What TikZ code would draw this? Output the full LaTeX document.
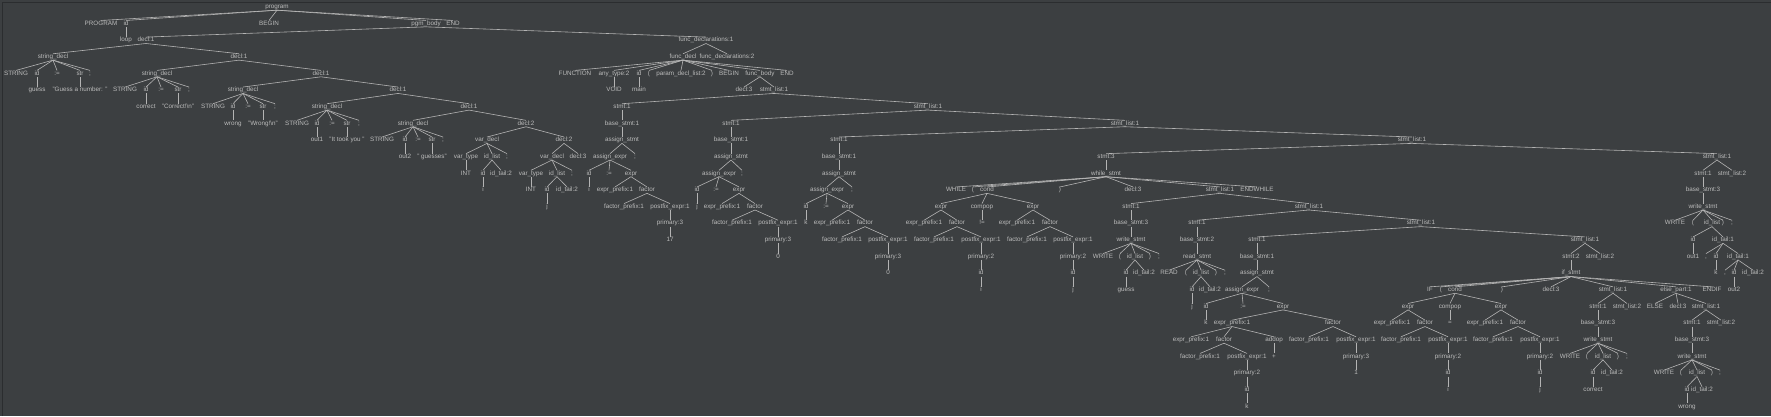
\documentclass[tikz,border=0pt]{standalone}
\usepackage{fontspec}
\setmainfont{Liberation Sans}
\definecolor{bgc}{HTML}{3C3F41}
\definecolor{txc}{HTML}{BBBBBB}
\definecolor{lnc}{HTML}{B4B4B4}
\definecolor{frc}{HTML}{2B2D2F}
\tikzset{
  tn/.style={text=txc, font=\fontsize{6.3}{7}\selectfont, inner sep=0.3pt, text height=4.2pt, text depth=1.2pt},
  te/.style={draw=lnc, line width=0.6pt}
}
\newcommand\T[4]{\node[tn] (#1) at (#2, {-7-16.65*#3}) {#4};}
\newcommand\E[2]{\foreach \chld in {#2}{\draw[te] (#1.south) -- (\chld.north);}}
\begin{document}
\begin{tikzpicture}[x=1pt,y=1pt]
\fill[bgc] (0,0) rectangle (1771,-416);
\useasboundingbox (0,0) rectangle (1771,-416);
\draw[frc, line width=1pt] (2.5,-416) -- (2.5,-2.5) -- (1771,-2.5);
% top
\T{r}{277}{0}{program}
\T{rP}{101}{1}{PROGRAM} \T{rI}{126}{1}{id} \T{rB}{269}{1}{BEGIN} \T{pb}{426}{1}{pgm\_body} \T{rE}{453}{1}{END}
\T{rL}{126}{2}{loop} \T{da}{146}{2}{decl:1} \T{fa}{706}{2}{func\_declarations:1}
% declarations
\T{sa}{53}{3}{string\_decl} \T{db}{239}{3}{decl:1}
\T{saS}{16}{4}{STRING} \T{saI}{37}{4}{id} \T{saE}{57}{4}{:=} \T{saT}{80}{4}{str} \T{saC}{90}{4}{;}
\T{saIv}{37}{5}{guess} \T{saTv}{80}{5}{"Guess a number: "}
\T{sb}{157}{4}{string\_decl} \T{dc}{321}{4}{decl:1}
\T{sbS}{125}{5}{STRING} \T{sbI}{146}{5}{id} \T{sbE}{161}{5}{:=} \T{sbT}{178}{5}{str} \T{sbC}{189}{5}{;}
\T{sbIv}{146}{6}{correct} \T{sbTv}{178}{6}{"Correct!\textbackslash n"}
\T{sc}{243}{5}{string\_decl} \T{dd}{398}{5}{decl:1}
\T{scS}{213}{6}{STRING} \T{scI}{233}{6}{id} \T{scE}{248}{6}{:=} \T{scT}{263}{6}{str} \T{scC}{275}{6}{;}
\T{scIv}{233}{7}{wrong} \T{scTv}{263}{7}{"Wrong!\textbackslash n"}
\T{sd}{327}{6}{string\_decl} \T{de}{469}{6}{decl:1}
\T{sdS}{297}{7}{STRING} \T{sdI}{317}{7}{id} \T{sdE}{332}{7}{:=} \T{sdT}{347}{7}{str} \T{sdC}{359}{7}{;}
\T{sdIv}{317}{8}{out1} \T{sdTv}{347}{8}{"It took you "}
\T{se}{413}{7}{string\_decl} \T{df}{526}{7}{decl:2}
\T{seS}{382}{8}{STRING} \T{seI}{405}{8}{id} \T{seE}{418}{8}{:=} \T{seT}{432}{8}{str} \T{seC}{443}{8}{;}
\T{seIv}{405}{9}{out2} \T{seTv}{432}{9}{" guesses"}
\T{va}{487}{8}{var\_decl} \T{dg}{564}{8}{decl:2}
\T{vaT}{466}{9}{var\_type} \T{vaL}{492}{9}{id\_list} \T{vaC}{507}{9}{;}
\T{vaTv}{466}{10}{INT} \T{vaI}{483}{10}{id} \T{vaIt}{501}{10}{id\_tail:2}
\T{vaIv}{483}{11}{i}
\T{vb}{552}{9}{var\_decl} \T{dh}{578}{9}{decl:3}
\T{vbT}{531}{10}{var\_type} \T{vbL}{557}{10}{id\_list} \T{vbC}{572}{10}{;}
\T{vbTv}{531}{11}{INT} \T{vbI}{547}{11}{id} \T{vbIt}{567}{11}{id\_tail:2}
\T{vbIv}{547}{12}{j}
% function
\T{fd}{683}{3}{func\_decl} \T{fb}{727}{3}{func\_declarations:2}
\T{fF}{575}{4}{FUNCTION} \T{fT}{614}{4}{any\_type:2} \T{fI}{639}{4}{id} \T{fLp}{649}{4}{(} \T{fP}{681}{4}{param\_decl\_list:2} \T{fRp}{712}{4}{)} \T{fB}{729}{4}{BEGIN} \T{fBd}{760}{4}{func\_body} \T{fE}{787}{4}{END}
\T{fTv}{614}{5}{VOID} \T{fIv}{639}{5}{main} \T{fD}{744}{5}{decl:3} \T{la}{774}{5}{stmt\_list:1}
% stmt 1
\T{ta}{622}{6}{stmt:1} \T{lb}{928}{6}{stmt\_list:1}
\T{taB}{622}{7}{base\_stmt:1}
\T{taA}{622}{8}{assign\_stmt}
\T{taX}{610}{9}{assign\_expr} \T{taC}{635}{9}{;}
\T{taI}{589}{10}{id} \T{taE}{609}{10}{:=} \T{taR}{631}{10}{expr}
\T{taIv}{589}{11}{i} \T{taRp}{615}{11}{expr\_prefix:1} \T{taRf}{647}{11}{factor}
\T{taFp}{624}{12}{factor\_prefix:1} \T{taFx}{670}{12}{postfix\_expr:1}
\T{taFy}{670}{13}{primary:3}
\T{taFv}{670}{14}{17}
% stmt 2
\T{tb}{731}{7}{stmt:1} \T{lc}{1125}{7}{stmt\_list:1}
\T{tbB}{731}{8}{base\_stmt:1}
\T{tbA}{731}{9}{assign\_stmt}
\T{tbX}{719}{10}{assign\_expr} \T{tbC}{742}{10}{;}
\T{tbI}{697}{11}{id} \T{tbE}{716}{11}{:=} \T{tbR}{739}{11}{expr}
\T{tbIv}{697}{12}{j} \T{tbRp}{722}{12}{expr\_prefix:1} \T{tbRf}{755}{12}{factor}
\T{tbFp}{732}{13}{factor\_prefix:1} \T{tbFx}{778}{13}{postfix\_expr:1}
\T{tbFy}{778}{14}{primary:3}
\T{tbFv}{778}{15}{0}
% stmt 3
\T{tc}{839}{8}{stmt:1} \T{ld}{1412}{8}{stmt\_list:1}
\T{tcB}{839}{9}{base\_stmt:1}
\T{tcA}{839}{10}{assign\_stmt}
\T{tcX}{827}{11}{assign\_expr} \T{tcC}{852}{11}{;}
\T{tcI}{806}{12}{id} \T{tcE}{826}{12}{:=} \T{tcR}{848}{12}{expr}
\T{tcIv}{806}{13}{k} \T{tcRp}{832}{13}{expr\_prefix:1} \T{tcRf}{865}{13}{factor}
\T{tcFp}{842}{14}{factor\_prefix:1} \T{tcFx}{888}{14}{postfix\_expr:1}
\T{tcFy}{888}{15}{primary:3}
\T{tcFv}{888}{16}{0}
% while
\T{td}{1106}{9}{stmt:3} \T{le}{1717}{9}{stmt\_list:1}
\T{w}{1106}{10}{while\_stmt}
\T{wW}{956}{11}{WHILE} \T{wLp}{973}{11}{(} \T{wc}{987}{11}{cond} \T{wRp}{1060}{11}{)} \T{wD}{1133}{11}{decl:3} \T{lf}{1220}{11}{stmt\_list:1} \T{wE}{1257}{11}{ENDWHILE}
\T{wa}{941}{12}{expr} \T{wo}{982}{12}{compop} \T{wb}{1033}{12}{expr}
\T{waP}{924}{13}{expr\_prefix:1} \T{waF}{957}{13}{factor}
\T{waFp}{934}{14}{factor\_prefix:1} \T{waFx}{981}{14}{postfix\_expr:1}
\T{waFy}{981}{15}{primary:2} \T{waFi}{981}{16}{id} \T{waFv}{981}{17}{i}
\T{woV}{982}{13}{!=}
\T{wbP}{1017}{13}{expr\_prefix:1} \T{wbF}{1050}{13}{factor}
\T{wbFp}{1027}{14}{factor\_prefix:1} \T{wbFx}{1073}{14}{postfix\_expr:1}
\T{wbFy}{1073}{15}{primary:2} \T{wbFi}{1073}{16}{id} \T{wbFv}{1073}{17}{j}
% while body
\T{te}{1131}{12}{stmt:1} \T{lg}{1309}{12}{stmt\_list:1}
\T{teB}{1131}{13}{base\_stmt:3}
\T{teW}{1131}{14}{write\_stmt}
\T{teWW}{1103}{15}{WRITE} \T{teLp}{1120}{15}{(} \T{teL}{1135}{15}{id\_list} \T{teRp}{1150}{15}{)} \T{teC}{1159}{15}{;}
\T{teI}{1126}{16}{id} \T{teIt}{1144}{16}{id\_tail:2}
\T{teIv}{1126}{17}{guess}
\T{tf}{1197}{13}{stmt:1} \T{lh}{1421}{13}{stmt\_list:1}
\T{tfB}{1197}{14}{base\_stmt:2}
\T{tfR}{1197}{15}{read\_stmt}
\T{tfRR}{1169}{16}{READ} \T{tfLp}{1186}{16}{(} \T{tfL}{1201}{16}{id\_list} \T{tfRp}{1216}{16}{)} \T{tfC}{1225}{16}{;}
\T{tfI}{1192}{17}{id} \T{tfIt}{1210}{17}{id\_tail:2}
\T{tfIv}{1192}{18}{j}
\T{tg}{1257}{14}{stmt:1} \T{li}{1585}{14}{stmt\_list:1}
\T{tgB}{1257}{15}{base\_stmt:1}
\T{tgA}{1257}{16}{assign\_stmt}
\T{tgX}{1242}{17}{assign\_expr} \T{tgC}{1269}{17}{;}
\T{tgI}{1206}{18}{id} \T{tgE}{1243}{18}{:=} \T{tgR}{1283}{18}{expr}
\T{tgIv}{1206}{19}{k} \T{tgP}{1232}{19}{expr\_prefix:1} \T{tgF}{1333}{19}{factor}
\T{tgPP}{1191}{20}{expr\_prefix:1} \T{tgPF}{1224}{20}{factor} \T{tgPA}{1274}{20}{addop}
\T{tgPFp}{1200}{21}{factor\_prefix:1} \T{tgPFx}{1247}{21}{postfix\_expr:1} \T{tgPAv}{1274}{21}{+}
\T{tgPFy}{1247}{22}{primary:2} \T{tgPFi}{1247}{23}{id} \T{tgPFv}{1247}{24}{k}
\T{tgFp}{1309}{20}{factor\_prefix:1} \T{tgFx}{1356}{20}{postfix\_expr:1}
\T{tgFy}{1356}{21}{primary:3} \T{tgFv}{1356}{22}{1}
% if
\T{ti}{1571}{15}{stmt:2} \T{ti2}{1600}{15}{stmt\_list:2}
\T{if}{1571}{16}{if\_stmt}
\T{iI}{1430}{17}{IF} \T{iLp}{1441}{17}{(} \T{ic}{1455}{17}{cond} \T{iRp}{1502}{17}{)} \T{iD}{1551}{17}{decl:3} \T{lj}{1613}{17}{stmt\_list:1} \T{ie}{1676}{17}{else\_part:1} \T{iE}{1712}{17}{ENDIF}
\T{ia}{1408}{18}{expr} \T{io}{1450}{18}{compop} \T{ib}{1501}{18}{expr}
\T{iaP}{1392}{19}{expr\_prefix:1} \T{iaF}{1425}{19}{factor}
\T{iaFp}{1401}{20}{factor\_prefix:1} \T{iaFx}{1448}{20}{postfix\_expr:1}
\T{iaFy}{1448}{21}{primary:2} \T{iaFi}{1448}{22}{id} \T{iaFv}{1448}{23}{i}
\T{ioV}{1450}{19}{=}
\T{ibP}{1485}{19}{expr\_prefix:1} \T{ibF}{1518}{19}{factor}
\T{ibFp}{1493}{20}{factor\_prefix:1} \T{ibFx}{1540}{20}{postfix\_expr:1}
\T{ibFy}{1540}{21}{primary:2} \T{ibFi}{1540}{22}{id} \T{ibFv}{1540}{23}{j}
\T{tj}{1598}{18}{stmt:1} \T{tj2}{1627}{18}{stmt\_list:2}
\T{tjB}{1598}{19}{base\_stmt:3}
\T{tjW}{1598}{20}{write\_stmt}
\T{tjWW}{1570}{21}{WRITE} \T{tjLp}{1587}{21}{(} \T{tjL}{1603}{21}{id\_list} \T{tjRp}{1618}{21}{)} \T{tjC}{1627}{21}{;}
\T{tjI}{1593}{22}{id} \T{tjIt}{1612}{22}{id\_tail:2}
\T{tjIv}{1593}{23}{correct}
\T{eE}{1655}{18}{ELSE} \T{eD}{1678}{18}{decl:3} \T{lk}{1706}{18}{stmt\_list:1}
\T{tk}{1692}{19}{stmt:1} \T{tk2}{1721}{19}{stmt\_list:2}
\T{tkB}{1692}{20}{base\_stmt:3}
\T{tkW}{1692}{21}{write\_stmt}
\T{tkWW}{1664}{22}{WRITE} \T{tkLp}{1681}{22}{(} \T{tkL}{1697}{22}{id\_list} \T{tkRp}{1712}{22}{)} \T{tkC}{1720}{22}{;}
\T{tkI}{1687}{23}{id} \T{tkIt}{1702}{23}{id\_tail:2}
\T{tkIv}{1687}{24}{wrong}
% final write
\T{tl}{1703}{10}{stmt:1} \T{tl2}{1732}{10}{stmt\_list:2}
\T{tlB}{1703}{11}{base\_stmt:3}
\T{tlW}{1703}{12}{write\_stmt}
\T{tlWW}{1675}{13}{WRITE} \T{tlLp}{1693}{13}{(} \T{tlL}{1712}{13}{id\_list} \T{tlRp}{1723}{13}{)} \T{tlC}{1732}{13}{;}
\T{tlI}{1693}{14}{id} \T{tlT}{1723}{14}{id\_tail:1}
\T{tlIv}{1693}{15}{out1} \T{tlTc}{1706}{15}{,} \T{tlTI}{1716}{15}{id} \T{tlTT}{1738}{15}{id\_tail:1}
\T{tlTIv}{1716}{16}{k} \T{tlTTc}{1725}{16}{,} \T{tlTTI}{1734}{16}{id} \T{tlTTt}{1753}{16}{id\_tail:2}
\T{tlTTIv}{1734}{17}{out2}
% edges
\E{r}{rP,rI,rB,pb,rE}
\E{rI}{rL}
\E{pb}{da,fa}
\E{da}{sa,db}
\E{sa}{saS,saI,saE,saT,saC} \E{saI}{saIv} \E{saT}{saTv}
\E{db}{sb,dc}
\E{sb}{sbS,sbI,sbE,sbT,sbC} \E{sbI}{sbIv} \E{sbT}{sbTv}
\E{dc}{sc,dd}
\E{sc}{scS,scI,scE,scT,scC} \E{scI}{scIv} \E{scT}{scTv}
\E{dd}{sd,de}
\E{sd}{sdS,sdI,sdE,sdT,sdC} \E{sdI}{sdIv} \E{sdT}{sdTv}
\E{de}{se,df}
\E{se}{seS,seI,seE,seT,seC} \E{seI}{seIv} \E{seT}{seTv}
\E{df}{va,dg}
\E{va}{vaT,vaL,vaC} \E{vaT}{vaTv} \E{vaL}{vaI,vaIt} \E{vaI}{vaIv}
\E{dg}{vb,dh}
\E{vb}{vbT,vbL,vbC} \E{vbT}{vbTv} \E{vbL}{vbI,vbIt} \E{vbI}{vbIv}
\E{fa}{fd,fb}
\E{fd}{fF,fT,fI,fLp,fP,fRp,fB,fBd,fE}
\E{fT}{fTv} \E{fI}{fIv}
\E{fBd}{fD,la}
\E{la}{ta,lb}
\E{ta}{taB} \E{taB}{taA} \E{taA}{taX,taC}
\E{taX}{taI,taE,taR} \E{taI}{taIv} \E{taR}{taRp,taRf} \E{taRf}{taFp,taFx} \E{taFx}{taFy} \E{taFy}{taFv}
\E{lb}{tb,lc}
\E{tb}{tbB} \E{tbB}{tbA} \E{tbA}{tbX,tbC}
\E{tbX}{tbI,tbE,tbR} \E{tbI}{tbIv} \E{tbR}{tbRp,tbRf} \E{tbRf}{tbFp,tbFx} \E{tbFx}{tbFy} \E{tbFy}{tbFv}
\E{lc}{tc,ld}
\E{tc}{tcB} \E{tcB}{tcA} \E{tcA}{tcX,tcC}
\E{tcX}{tcI,tcE,tcR} \E{tcI}{tcIv} \E{tcR}{tcRp,tcRf} \E{tcRf}{tcFp,tcFx} \E{tcFx}{tcFy} \E{tcFy}{tcFv}
\E{ld}{td,le}
\E{td}{w}
\E{w}{wW,wLp,wc,wRp,wD,lf,wE}
\E{wc}{wa,wo,wb}
\E{wa}{waP,waF} \E{waF}{waFp,waFx} \E{waFx}{waFy} \E{waFy}{waFi} \E{waFi}{waFv}
\E{wo}{woV}
\E{wb}{wbP,wbF} \E{wbF}{wbFp,wbFx} \E{wbFx}{wbFy} \E{wbFy}{wbFi} \E{wbFi}{wbFv}
\E{lf}{te,lg}
\E{te}{teB} \E{teB}{teW} \E{teW}{teWW,teLp,teL,teRp,teC} \E{teL}{teI,teIt} \E{teI}{teIv}
\E{lg}{tf,lh}
\E{tf}{tfB} \E{tfB}{tfR} \E{tfR}{tfRR,tfLp,tfL,tfRp,tfC} \E{tfL}{tfI,tfIt} \E{tfI}{tfIv}
\E{lh}{tg,li}
\E{tg}{tgB} \E{tgB}{tgA} \E{tgA}{tgX,tgC} \E{tgX}{tgI,tgE,tgR} \E{tgI}{tgIv} \E{tgR}{tgP,tgF}
\E{tgP}{tgPP,tgPF,tgPA} \E{tgPF}{tgPFp,tgPFx} \E{tgPFx}{tgPFy} \E{tgPFy}{tgPFi} \E{tgPFi}{tgPFv} \E{tgPA}{tgPAv}
\E{tgF}{tgFp,tgFx} \E{tgFx}{tgFy} \E{tgFy}{tgFv}
\E{li}{ti,ti2}
\E{ti}{if}
\E{if}{iI,iLp,ic,iRp,iD,lj,ie,iE}
\E{ic}{ia,io,ib}
\E{ia}{iaP,iaF} \E{iaF}{iaFp,iaFx} \E{iaFx}{iaFy} \E{iaFy}{iaFi} \E{iaFi}{iaFv}
\E{io}{ioV}
\E{ib}{ibP,ibF} \E{ibF}{ibFp,ibFx} \E{ibFx}{ibFy} \E{ibFy}{ibFi} \E{ibFi}{ibFv}
\E{lj}{tj,tj2}
\E{tj}{tjB} \E{tjB}{tjW} \E{tjW}{tjWW,tjLp,tjL,tjRp,tjC} \E{tjL}{tjI,tjIt} \E{tjI}{tjIv}
\E{ie}{eE,eD,lk}
\E{lk}{tk,tk2}
\E{tk}{tkB} \E{tkB}{tkW} \E{tkW}{tkWW,tkLp,tkL,tkRp,tkC} \E{tkL}{tkI,tkIt} \E{tkI}{tkIv}
\E{le}{tl,tl2}
\E{tl}{tlB} \E{tlB}{tlW} \E{tlW}{tlWW,tlLp,tlL,tlRp,tlC} \E{tlL}{tlI,tlT} \E{tlI}{tlIv}
\E{tlT}{tlTc,tlTI,tlTT} \E{tlTI}{tlTIv} \E{tlTT}{tlTTc,tlTTI,tlTTt} \E{tlTTI}{tlTTIv}
\end{tikzpicture}
\end{document}
